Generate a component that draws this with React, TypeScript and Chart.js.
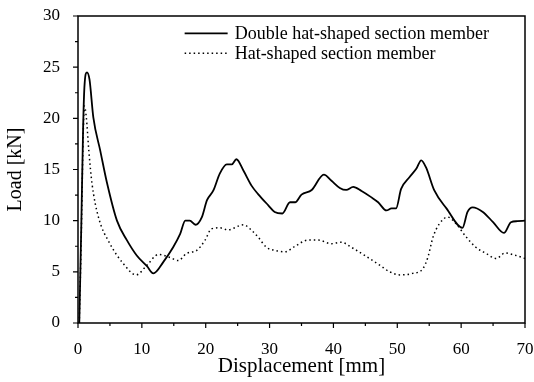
import React, { useEffect, useRef } from "react";
import { Chart, registerables } from "chart.js";

Chart.register(...registerables);

const doubleX = [0.2, 0.5, 0.8, 1.0, 1.4, 1.8, 2.4, 3.5, 4.5, 6.1, 7.65, 9.2, 10.8, 11.8, 13.4, 14.9, 16.0, 16.8, 17.5, 18.4, 19.4, 20.2, 21.2, 22.2, 23.3, 24.1, 24.8, 25.9, 27.2, 28.2, 29.8, 30.8, 32.0, 33.2, 34.0, 35.0, 36.6, 38.5, 39.7, 41.0, 42.0, 43.1, 44.4, 45.9, 47.0, 48.3, 49.1, 49.8, 50.6, 51.9, 53.0, 53.75, 54.5, 55.8, 57.7, 60.2, 61.0, 61.8, 63.4, 65.0, 66.7, 67.8, 68.8, 70.0];
const doubleY = [0, 9, 19, 23, 24.5, 23.8, 20.1, 16.8, 13.8, 10.0, 8.1, 6.6, 5.55, 4.85, 6.0, 7.4, 8.7, 10.0, 10.0, 9.6, 10.35, 12.0, 12.95, 14.6, 15.5, 15.5, 16.0, 14.9, 13.4, 12.6, 11.5, 10.85, 10.7, 11.8, 11.8, 12.55, 13.0, 14.5, 13.9, 13.2, 13.0, 13.3, 12.9, 12.3, 11.8, 11.0, 11.2, 11.2, 13.1, 14.25, 15.1, 15.9, 15.2, 12.95, 11.2, 9.3, 10.85, 11.3, 10.85, 9.85, 8.8, 9.85, 9.95, 10.0];

const hatX = [0.2, 0.5, 0.8, 1.0, 1.3, 1.7, 2.2, 3.2, 5.0, 7.1, 9.1, 10.8, 12.6, 14.4, 15.7, 17.0, 18.6, 19.9, 20.9, 22.2, 23.5, 25.9, 27.2, 28.2, 29.5, 30.8, 32.4, 34.0, 36.0, 37.6, 39.7, 41.2, 42.8, 44.9, 47.5, 48.8, 50.4, 52.4, 54.0, 54.8, 55.6, 56.6, 57.9, 59.2, 60.8, 62.3, 63.9, 65.5, 66.9, 68.0, 69.6, 70.0];
const hatY = [0, 8, 18, 21.2, 20.1, 16.8, 13.6, 10.35, 7.75, 5.8, 4.7, 5.65, 6.7, 6.4, 6.1, 6.8, 7.1, 8.1, 9.2, 9.3, 9.1, 9.6, 9.05, 8.4, 7.4, 7.1, 6.95, 7.5, 8.1, 8.1, 7.75, 7.9, 7.4, 6.6, 5.55, 5.0, 4.7, 4.85, 5.3, 6.45, 8.4, 9.7, 10.35, 9.7, 8.4, 7.4, 6.8, 6.3, 6.85, 6.7, 6.4, 6.3];

const seriesNames = ["Double hat-shaped section member", "Hat-shaped section member"];
const xTicks = [0, 10, 20, 30, 40, 50, 60, 70];
const yTicks = [0, 5, 10, 15, 20, 25, 30];

const FONT = "'Liberation Serif', 'DejaVu Serif', serif";

const framePlugin = {
  id: "frame",
  afterDraw(chart: any) {
    const { ctx, chartArea } = chart;
    const { left, right, top, bottom } = chartArea;
    const xs = chart.scales.x;
    const ys = chart.scales.y;
    ctx.save();
    ctx.strokeStyle = "#000";
    ctx.lineWidth = 1.5;
    ctx.strokeRect(left, top, right - left, bottom - top);
    ctx.lineWidth = 1.2;
    ctx.beginPath();
    for (let v = 0; v <= 70; v += 5) {
      const px = xs.getPixelForValue(v);
      const major = v % 10 === 0;
      ctx.moveTo(px, bottom);
      ctx.lineTo(px, bottom + (major ? 5 : 3));
    }
    for (let v = 0; v <= 30; v += 2.5) {
      const py = ys.getPixelForValue(v);
      const major = v % 5 === 0;
      ctx.moveTo(left, py);
      ctx.lineTo(left - (major ? 5 : 3), py);
    }
    ctx.stroke();

    // legend
    const lx0 = xs.getPixelForValue(16.7);
    const lx1 = lx0 + 43;
    const rows = [ys.getPixelForValue(28.3), ys.getPixelForValue(26.35)];
    ctx.font = `18px ${FONT}`;
    ctx.fillStyle = "#000";
    ctx.textBaseline = "middle";
    chart.data.datasets.forEach((ds: any, i: number) => {
      ctx.beginPath();
      ctx.lineWidth = ds.borderWidth;
      ctx.setLineDash(ds.borderDash || []);
      ctx.moveTo(lx0, rows[i]);
      ctx.lineTo(lx1, rows[i]);
      ctx.stroke();
      ctx.setLineDash([]);
      ctx.fillText(ds.label, lx1 + 7, rows[i] + 1);
    });
    ctx.restore();
  },
};

export default function App() {
  const ref = useRef<HTMLCanvasElement>(null);
  useEffect(() => {
    document.body.style.margin = "0";
    const canvas = ref.current!;
    const chart = new Chart(canvas, {
      type: "line",
      data: {
        datasets: [
          {
            label: seriesNames[0],
            data: doubleX.map((x, i) => ({ x, y: doubleY[i] })),
            borderColor: "#000",
            borderWidth: 1.8,
            pointRadius: 0,
            cubicInterpolationMode: "monotone",
            fill: false,
          },
          {
            label: seriesNames[1],
            data: hatX.map((x, i) => ({ x, y: hatY[i] })),
            borderColor: "#000",
            borderWidth: 1.5,
            borderDash: [1.5, 3],
            pointRadius: 0,
            cubicInterpolationMode: "monotone",
            fill: false,
          },
        ],
      },
      options: {
        responsive: false,
        animation: false,
        layout: { padding: { top: 16, right: 9, left: 0, bottom: 0 } },
        plugins: { legend: { display: false }, tooltip: { enabled: false } },
        scales: {
          x: {
            type: "linear",
            min: 0,
            max: 70,
            afterBuildTicks: (axis: any) => {
              axis.ticks = xTicks.map((v) => ({ value: v }));
            },
            afterFit: (axis: any) => {
              axis.height = 59;
              axis.paddingLeft = 0;
              axis.paddingRight = 0;
            },
            grid: { display: false },
            border: { display: false },
            ticks: {
              color: "#000",
              font: { family: FONT, size: 17 },
              padding: 8,
              maxRotation: 0,
            },
            title: {
              display: true,
              text: "Displacement [mm]",
              color: "#000",
              font: { family: FONT, size: 21 },
              padding: { top: 2, bottom: 3 },
            },
          },
          y: {
            type: "linear",
            min: 0,
            max: 30,
            afterBuildTicks: (axis: any) => {
              axis.ticks = yTicks.map((v) => ({ value: v }));
            },
            afterFit: (axis: any) => {
              axis.width = 78;
              axis.paddingTop = 0;
              axis.paddingBottom = 0;
            },
            grid: { display: false },
            border: { display: false },
            ticks: {
              color: "#000",
              font: { family: FONT, size: 17 },
              padding: 10,
            },
            title: {
              display: true,
              text: "Load [kN]",
              color: "#000",
              font: { family: FONT, size: 20 },
              padding: { top: 4, bottom: 4 },
            },
          },
        },
      },
      plugins: [framePlugin],
    });
    return () => chart.destroy();
  }, []);
  return <canvas ref={ref} width={534} height={382} style={{ display: "block" }} />;
}
